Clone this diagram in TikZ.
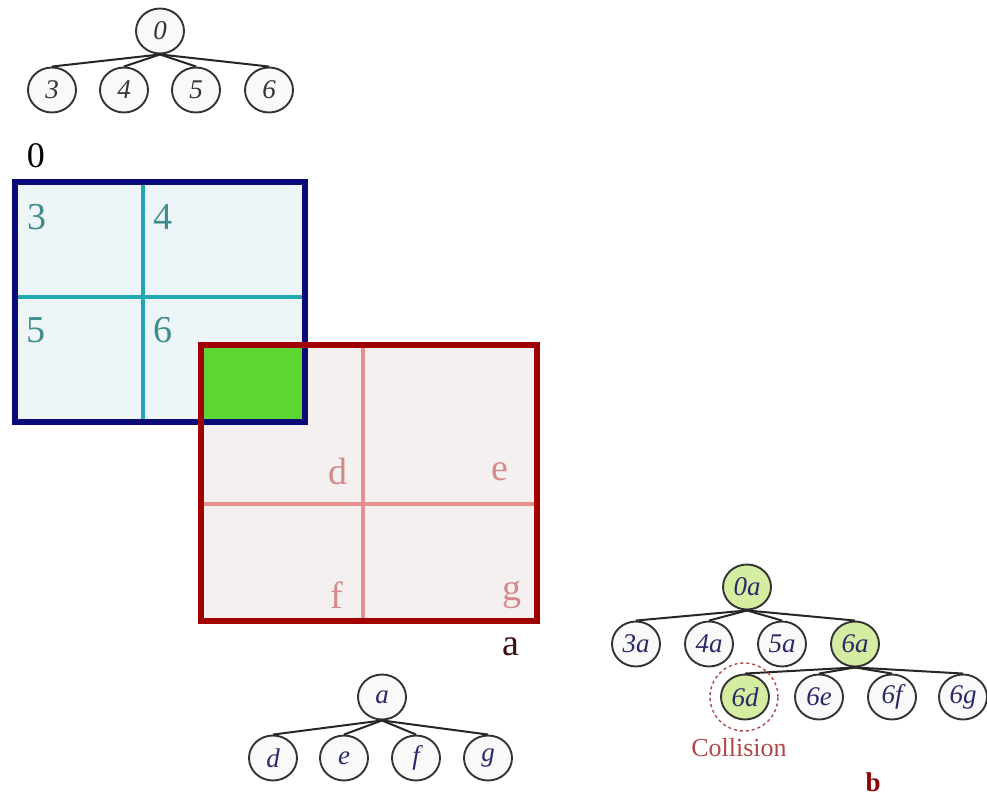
\documentclass[tikz,border=0pt]{standalone}
\usepackage{fontspec}
\setmainfont{Liberation Serif}
\usetikzlibrary{shapes.geometric}
\definecolor{bborder}{HTML}{0A0A78}
\definecolor{bfill}{HTML}{EEF5F8}
\definecolor{cyanline}{HTML}{22A8B0}
\definecolor{teallabel}{HTML}{3E8E8E}
\definecolor{rborder}{HTML}{A00000}
\definecolor{rfill}{HTML}{F5F0F0}
\definecolor{pinkline}{HTML}{E89090}
\definecolor{pinklabel}{HTML}{D48A8A}
\definecolor{overlap}{HTML}{5CD632}
\definecolor{tgreen}{HTML}{D5EDA0}
\definecolor{tnavy}{HTML}{2A2A6A}
\definecolor{colred}{HTML}{B04848}
\definecolor{bred}{HTML}{8B0000}
\definecolor{alabel}{HTML}{3A1010}
\tikzset{
  tnode/.style={ellipse, draw=black!80, line width=1.9pt, fill=gray!5,
    minimum width=48pt, minimum height=45pt, inner sep=0pt,
    font=\fontsize{27}{27}\selectfont\itshape},
  gnode/.style={tnode, fill=tgreen},
  tedge/.style={draw=black!85, line width=2pt},
  boxlabel/.style={inner sep=0pt, font=\fontsize{38}{38}\selectfont},
}
\begin{document}
\begin{tikzpicture}[x=1pt,y=-1pt]
\useasboundingbox (0,0) rectangle (987,799);
% boxes
\fill[bfill] (15,182) rectangle (305,422);
\fill[rfill] (201,345) rectangle (537,621);
\fill[overlap] (201,345) rectangle (305,422);
\coordinate (c1) at (143,182); \coordinate (c2) at (143,422);
\coordinate (c3) at (15,297); \coordinate (c4) at (305,297);
\draw[cyanline, line width=3.5pt] (c1) -- (c2) (c3) -- (c4);
\coordinate (p1) at (363,345); \coordinate (p2) at (363,621);
\coordinate (p3) at (201,504); \coordinate (p4) at (537,504);
\draw[pinkline, line width=3.5pt] (p1) -- (p2) (p3) -- (p4);
\draw[bborder, line width=6.5pt] (15,182) rectangle (305,422);
\draw[rborder, line width=6.5pt] (201,345) rectangle (537,621);
% box labels
\node[boxlabel, text=black, font=\fontsize{36}{36}\selectfont] (l0) at (36,156) {0};
\node[boxlabel, text=teallabel] (l3) at (37,217) {3};
\node[boxlabel, text=teallabel] (l4) at (163,217) {4};
\node[boxlabel, text=teallabel] (l5) at (36,330) {5};
\node[boxlabel, text=teallabel] (l6) at (163,330) {6};
\node[boxlabel, text=pinklabel] (ld) at (338,471) {d};
\node[boxlabel, text=pinklabel] (le) at (500,472) {e};
\node[boxlabel, text=pinklabel] (lf) at (337,595) {f};
\node[boxlabel, text=pinklabel] (lg) at (512,595) {g};
\node[boxlabel, text=alabel] (la) at (511,647) {a};
% tree 1
\begin{scope}[every node/.append style={text=black!80}]
\node[tnode] (t0) at (160,31) {0};
\node[tnode] (t3) at (52,90) {3};
\node[tnode] (t4) at (124,90) {4};
\node[tnode] (t5) at (196,90) {5};
\node[tnode] (t6) at (269,90) {6};
\end{scope}
\foreach \c in {t3,t4,t5,t6} \draw[tedge] (t0.south) -- (\c.north);
% tree 2
\begin{scope}[every node/.append style={text=tnavy}]
\node[tnode] (ta) at (382,697) {a};
\node[tnode] (td) at (273,758) {d};
\node[tnode] (te) at (344,758) {e};
\node[tnode] (tf) at (416,758) {f};
\node[tnode] (tg) at (488,758) {g};
\end{scope}
\foreach \c in {td,te,tf,tg} \draw[tedge] (ta.south) -- (\c.north);
% tree 3
\begin{scope}[every node/.append style={text=tnavy}]
\node[gnode] (u0a) at (747,587) {0a};
\node[tnode] (u3a) at (636,644) {3a};
\node[tnode] (u4a) at (709,644) {4a};
\node[tnode] (u5a) at (782,644) {5a};
\node[gnode] (u6a) at (855,644) {6a};
\node[gnode] (u6d) at (745,697) {6d};
\node[tnode] (u6e) at (819,697) {6e};
\node[tnode] (u6f) at (892,697) {6f};
\node[tnode] (u6g) at (963,697) {6g};
\end{scope}
\foreach \c in {u3a,u4a,u5a,u6a} \draw[tedge] (u0a.south) -- (\c.north);
\foreach \c in {u6d,u6e,u6f,u6g} \draw[tedge] (u6a.south) -- (\c.north);
\node[circle, draw=colred, dashed, line width=1.4pt, minimum size=68pt, inner sep=0pt] (coll) at (744,697) {};
\node[inner sep=0pt, text=colred, font=\fontsize{26}{26}\selectfont] (colltext) at (739,748) {Collision};
\node[inner sep=0pt, text=bred, font=\fontsize{27}{27}\selectfont\bfseries] (lb) at (873,782) {b};
\end{tikzpicture}
\end{document}
